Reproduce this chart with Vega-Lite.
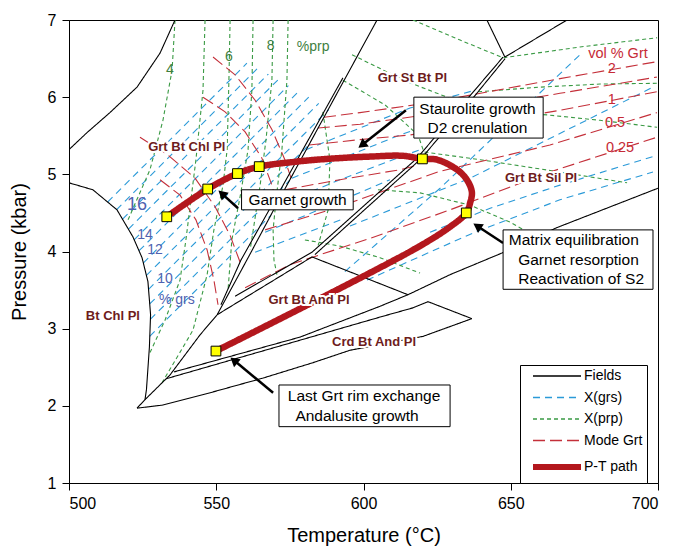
{
"$schema":"https://vega.github.io/schema/vega-lite/v6.json",
"width":589,"height":463,
"autosize":{"type":"none"},
"padding":{"left":69,"top":20,"right":17,"bottom":71},
"background":"white",
"datasets":{
"iso":[
{"g":"b1","k":"X(grs)","T":513.1,"P":4.64},{"g":"b1","k":"X(grs)","T":560.4,"P":6.44},
{"g":"b2","k":"X(grs)","T":516.1,"P":4.54},{"g":"b2","k":"X(grs)","T":564.2,"P":6.38},
{"g":"b3","k":"X(grs)","T":518.2,"P":4.42},{"g":"b3","k":"X(grs)","T":567.7,"P":6.30},
{"g":"b4","k":"X(grs)","T":520.2,"P":4.29},{"g":"b4","k":"X(grs)","T":571.1,"P":6.23},
{"g":"b5","k":"X(grs)","T":522.1,"P":4.15},{"g":"b5","k":"X(grs)","T":574.5,"P":6.15},
{"g":"b6","k":"X(grs)","T":523.8,"P":4.01},{"g":"b6","k":"X(grs)","T":577.9,"P":6.07},
{"g":"b7","k":"X(grs)","T":525.2,"P":3.85},{"g":"b7","k":"X(grs)","T":581.4,"P":6.00},
{"g":"b8","k":"X(grs)","T":526.3,"P":3.69},{"g":"b8","k":"X(grs)","T":584.8,"P":5.92},
{"g":"b9","k":"X(grs)","T":527.0,"P":3.51},{"g":"b9","k":"X(grs)","T":588.2,"P":5.84},
{"g":"b10","k":"X(grs)","T":527.4,"P":3.32},{"g":"b10","k":"X(grs)","T":581.4,"P":5.38},
{"g":"b11","k":"X(grs)","T":527.6,"P":3.12},{"g":"b11","k":"X(grs)","T":574.9,"P":4.92},
{"g":"b12","k":"X(grs)","T":527.4,"P":2.90},{"g":"b12","k":"X(grs)","T":568.6,"P":4.47},
{"g":"bt1","k":"X(grs)","T":580.5,"P":5.32},{"g":"bt1","k":"X(grs)","T":598.8,"P":5.60},{"g":"bt1","k":"X(grs)","T":615.8,"P":5.86},{"g":"bt1","k":"X(grs)","T":637.9,"P":6.09},
{"g":"bt2","k":"X(grs)","T":575.7,"P":4.95},{"g":"bt2","k":"X(grs)","T":595.4,"P":5.25},{"g":"bt2","k":"X(grs)","T":612.4,"P":5.51},{"g":"bt2","k":"X(grs)","T":628.7,"P":5.73},
{"g":"bt3","k":"X(grs)","T":571.0,"P":4.60},{"g":"bt3","k":"X(grs)","T":592.0,"P":4.93},{"g":"bt3","k":"X(grs)","T":619.2,"P":5.32},
{"g":"bt4","k":"X(grs)","T":566.6,"P":4.25},{"g":"bt4","k":"X(grs)","T":588.6,"P":4.60},{"g":"bt4","k":"X(grs)","T":609.0,"P":4.93},
{"g":"bt5","k":"X(grs)","T":563.2,"P":3.99},{"g":"bt5","k":"X(grs)","T":578.4,"P":4.21},{"g":"bt5","k":"X(grs)","T":593.7,"P":4.43},
{"g":"bs1","k":"X(grs)","T":593.7,"P":3.74},{"g":"bs1","k":"X(grs)","T":626.0,"P":4.82},{"g":"bs1","k":"X(grs)","T":673.5,"P":6.55},
{"g":"bs2","k":"X(grs)","T":595.4,"P":4.33},{"g":"bs2","k":"X(grs)","T":636.2,"P":4.95},{"g":"bs2","k":"X(grs)","T":698.3,"P":6.13},
{"g":"bs3","k":"X(grs)","T":601.2,"P":3.63},{"g":"bs3","k":"X(grs)","T":637.2,"P":4.24},{"g":"bs3","k":"X(grs)","T":666.7,"P":4.67},{"g":"bs3","k":"X(grs)","T":698.3,"P":5.03},
{"g":"bs4","k":"X(grs)","T":622.6,"P":4.25},{"g":"bs4","k":"X(grs)","T":643.0,"P":4.56},{"g":"bs4","k":"X(grs)","T":666.7,"P":4.86},{"g":"bs4","k":"X(grs)","T":698.3,"P":5.23},
{"g":"g1","k":"X(prp)","T":536.0,"P":7.0},{"g":"g1","k":"X(prp)","T":535.0,"P":6.35},{"g":"g1","k":"X(prp)","T":531.9,"P":5.70},{"g":"g1","k":"X(prp)","T":527.5,"P":5.06},{"g":"g1","k":"X(prp)","T":519.7,"P":4.38},
{"g":"g2","k":"X(prp)","T":546.2,"P":7.0},{"g":"g2","k":"X(prp)","T":545.5,"P":6.09},{"g":"g2","k":"X(prp)","T":543.1,"P":5.19},{"g":"g2","k":"X(prp)","T":539.7,"P":4.15},{"g":"g2","k":"X(prp)","T":537.7,"P":3.63},{"g":"g2","k":"X(prp)","T":532.6,"P":3.11},{"g":"g2","k":"X(prp)","T":527.5,"P":2.69},
{"g":"g3","k":"X(prp)","T":554.7,"P":7.0},{"g":"g3","k":"X(prp)","T":554.3,"P":6.22},{"g":"g3","k":"X(prp)","T":553.7,"P":5.32},{"g":"g3","k":"X(prp)","T":552.3,"P":4.86},{"g":"g3","k":"X(prp)","T":549.2,"P":4.28},{"g":"g3","k":"X(prp)","T":546.9,"P":3.70},{"g":"g3","k":"X(prp)","T":542.1,"P":2.98},{"g":"g3","k":"X(prp)","T":531.6,"P":2.30},
{"g":"g4","k":"X(prp)","T":562.5,"P":7.0},{"g":"g4","k":"X(prp)","T":562.1,"P":6.09},{"g":"g4","k":"X(prp)","T":560.8,"P":5.32},{"g":"g4","k":"X(prp)","T":558.1,"P":4.71},{"g":"g4","k":"X(prp)","T":555.3,"P":4.15},{"g":"g4","k":"X(prp)","T":554.0,"P":3.50},
{"g":"g5","k":"X(prp)","T":569.3,"P":7.0},{"g":"g5","k":"X(prp)","T":568.9,"P":6.22},{"g":"g5","k":"X(prp)","T":566.9,"P":5.45},{"g":"g5","k":"X(prp)","T":564.9,"P":4.86},{"g":"g5","k":"X(prp)","T":562.8,"P":4.34},{"g":"g5","k":"X(prp)","T":561.5,"P":4.02},
{"g":"g6","k":"X(prp)","T":574.4,"P":7.0},{"g":"g6","k":"X(prp)","T":574.0,"P":6.22},{"g":"g6","k":"X(prp)","T":572.3,"P":5.32},{"g":"g6","k":"X(prp)","T":570.3,"P":4.67},{"g":"g6","k":"X(prp)","T":569.3,"P":4.28},{"g":"g6","k":"X(prp)","T":569.6,"P":3.89},{"g":"g6","k":"X(prp)","T":570.6,"P":3.70},
{"g":"gr1","k":"X(prp)","T":616.8,"P":7.0},{"g":"gr1","k":"X(prp)","T":632.8,"P":6.74},{"g":"gr1","k":"X(prp)","T":647.4,"P":6.51},{"g":"gr1","k":"X(prp)","T":673.5,"P":6.65},{"g":"gr1","k":"X(prp)","T":699.7,"P":6.77},
{"g":"gr2","k":"X(prp)","T":638.9,"P":6.07},{"g":"gr2","k":"X(prp)","T":659.9,"P":6.13},{"g":"gr2","k":"X(prp)","T":680.3,"P":6.17},{"g":"gr2","k":"X(prp)","T":699.7,"P":6.18},
{"g":"gr3","k":"X(prp)","T":596.1,"P":6.55},{"g":"gr3","k":"X(prp)","T":614.8,"P":6.20},{"g":"gr3","k":"X(prp)","T":628.4,"P":6.00},{"g":"gr3","k":"X(prp)","T":639.6,"P":5.83},{"g":"gr3","k":"X(prp)","T":662.3,"P":5.77},{"g":"gr3","k":"X(prp)","T":680.3,"P":5.70},{"g":"gr3","k":"X(prp)","T":699.7,"P":5.61},
{"g":"gr4","k":"X(prp)","T":593.0,"P":6.22},{"g":"gr4","k":"X(prp)","T":607.3,"P":5.90},{"g":"gr4","k":"X(prp)","T":618.5,"P":5.51},{"g":"gr4","k":"X(prp)","T":620.5,"P":5.29},{"g":"gr4","k":"X(prp)","T":639.6,"P":5.19},{"g":"gr4","k":"X(prp)","T":666.7,"P":5.03},{"g":"gr4","k":"X(prp)","T":689.5,"P":4.89},
{"g":"gr5","k":"X(prp)","T":604.9,"P":4.80},{"g":"gr5","k":"X(prp)","T":619.2,"P":4.76},{"g":"gr5","k":"X(prp)","T":636.2,"P":4.60},{"g":"gr5","k":"X(prp)","T":649.8,"P":4.38},{"g":"gr5","k":"X(prp)","T":663.3,"P":4.09},
{"g":"gr6","k":"X(prp)","T":580.1,"P":4.15},{"g":"gr6","k":"X(prp)","T":592.0,"P":4.07},{"g":"gr6","k":"X(prp)","T":605.6,"P":3.92},{"g":"gr6","k":"X(prp)","T":619.2,"P":3.72},
{"g":"gr8","k":"X(prp)","T":586.2,"P":5.81},{"g":"gr8","k":"X(prp)","T":588.6,"P":5.19},{"g":"gr8","k":"X(prp)","T":588.0,"P":4.54},{"g":"gr8","k":"X(prp)","T":584.6,"P":4.08},
{"g":"ra","k":"Mode Grt","T":548.9,"P":6.52},{"g":"ra","k":"Mode Grt","T":556.4,"P":6.29},{"g":"ra","k":"Mode Grt","T":563.2,"P":5.96},{"g":"ra","k":"Mode Grt","T":568.9,"P":5.58},{"g":"ra","k":"Mode Grt","T":573.3,"P":5.19},{"g":"ra","k":"Mode Grt","T":575.4,"P":4.95},
{"g":"rb","k":"Mode Grt","T":545.5,"P":6.00},{"g":"rb","k":"Mode Grt","T":553.0,"P":5.81},{"g":"rb","k":"Mode Grt","T":559.8,"P":5.55},{"g":"rb","k":"Mode Grt","T":565.5,"P":5.21},{"g":"rb","k":"Mode Grt","T":568.9,"P":4.86},{"g":"rb","k":"Mode Grt","T":570.6,"P":4.60},
{"g":"rc","k":"Mode Grt","T":524.1,"P":5.48},{"g":"rc","k":"Mode Grt","T":533.6,"P":5.25},{"g":"rc","k":"Mode Grt","T":542.8,"P":4.95},{"g":"rc","k":"Mode Grt","T":549.6,"P":4.58},{"g":"rc","k":"Mode Grt","T":554.7,"P":4.21},{"g":"rc","k":"Mode Grt","T":558.1,"P":3.86},
{"g":"rd","k":"Mode Grt","T":530.9,"P":4.93},{"g":"rd","k":"Mode Grt","T":537.7,"P":4.73},{"g":"rd","k":"Mode Grt","T":543.1,"P":4.41},{"g":"rd","k":"Mode Grt","T":546.9,"P":4.02},{"g":"rd","k":"Mode Grt","T":549.2,"P":3.63},{"g":"rd","k":"Mode Grt","T":550.6,"P":3.31},
{"g":"rr1","k":"Mode Grt","T":586.6,"P":5.74},{"g":"rr1","k":"Mode Grt","T":598.8,"P":5.80},{"g":"rr1","k":"Mode Grt","T":619.2,"P":5.91},{"g":"rr1","k":"Mode Grt","T":636.8,"P":6.03},{"g":"rr1","k":"Mode Grt","T":666.7,"P":6.24},{"g":"rr1","k":"Mode Grt","T":699.6,"P":6.46},
{"g":"rr2","k":"Mode Grt","T":584.5,"P":5.60},{"g":"rr2","k":"Mode Grt","T":598.8,"P":5.65},{"g":"rr2","k":"Mode Grt","T":619.2,"P":5.76},{"g":"rr2","k":"Mode Grt","T":632.8,"P":5.83},{"g":"rr2","k":"Mode Grt","T":666.7,"P":6.05},{"g":"rr2","k":"Mode Grt","T":699.6,"P":6.26},
{"g":"rr3","k":"Mode Grt","T":581.5,"P":5.38},{"g":"rr3","k":"Mode Grt","T":598.8,"P":5.45},{"g":"rr3","k":"Mode Grt","T":615.8,"P":5.51},{"g":"rr3","k":"Mode Grt","T":627.7,"P":5.58},{"g":"rr3","k":"Mode Grt","T":666.7,"P":5.83},{"g":"rr3","k":"Mode Grt","T":699.6,"P":6.07},
{"g":"rr6","k":"Mode Grt","T":573.3,"P":4.80},{"g":"rr6","k":"Mode Grt","T":592.0,"P":4.93},{"g":"rr6","k":"Mode Grt","T":612.4,"P":5.06},{"g":"rr6","k":"Mode Grt","T":618.5,"P":5.12},
{"g":"rr4","k":"Mode Grt","T":566.6,"P":4.28},{"g":"rr4","k":"Mode Grt","T":588.6,"P":4.54},{"g":"rr4","k":"Mode Grt","T":608.0,"P":4.80},{"g":"rr4","k":"Mode Grt","T":626.0,"P":5.04},{"g":"rr4","k":"Mode Grt","T":663.3,"P":5.38},{"g":"rr4","k":"Mode Grt","T":699.6,"P":5.80},
{"g":"rr5","k":"Mode Grt","T":559.8,"P":3.53},{"g":"rr5","k":"Mode Grt","T":575.0,"P":3.83},{"g":"rr5","k":"Mode Grt","T":602.2,"P":4.17},{"g":"rr5","k":"Mode Grt","T":629.4,"P":4.54},{"g":"rr5","k":"Mode Grt","T":663.3,"P":5.03},{"g":"rr5","k":"Mode Grt","T":699.6,"P":5.48}
],
"fld":[
{"g":"f1","k":"Fields","T":536.0,"P":7.0},{"g":"f1","k":"Fields","T":530.9,"P":6.57},{"g":"f1","k":"Fields","T":523.1,"P":6.13},{"g":"f1","k":"Fields","T":513.9,"P":5.80},{"g":"f1","k":"Fields","T":506.1,"P":5.54},{"g":"f1","k":"Fields","T":500.0,"P":5.32},
{"g":"f2","k":"Fields","T":500.0,"P":4.89},{"g":"f2","k":"Fields","T":508.1,"P":4.80},{"g":"f2","k":"Fields","T":516.3,"P":4.54},{"g":"f2","k":"Fields","T":521.7,"P":4.19},{"g":"f2","k":"Fields","T":524.8,"P":3.92},{"g":"f2","k":"Fields","T":526.8,"P":3.61},{"g":"f2","k":"Fields","T":527.7,"P":3.18},{"g":"f2","k":"Fields","T":527.3,"P":2.76},{"g":"f2","k":"Fields","T":526.3,"P":2.21},{"g":"f2","k":"Fields","T":525.8,"P":2.08},{"g":"f2","k":"Fields","T":523.1,"P":1.97},
{"g":"f3","k":"Fields","T":523.1,"P":1.97},{"g":"f3","k":"Fields","T":531.9,"P":2.01},{"g":"f3","k":"Fields","T":548.9,"P":2.18},{"g":"f3","k":"Fields","T":565.9,"P":2.36},{"g":"f3","k":"Fields","T":582.9,"P":2.56},{"g":"f3","k":"Fields","T":595.4,"P":2.72},{"g":"f3","k":"Fields","T":620.2,"P":2.90},{"g":"f3","k":"Fields","T":636.8,"P":3.13},
{"g":"f4","k":"Fields","T":532.9,"P":2.35},{"g":"f4","k":"Fields","T":578.4,"P":2.85},{"g":"f4","k":"Fields","T":605.6,"P":3.15},{"g":"f4","k":"Fields","T":616.8,"P":3.27},{"g":"f4","k":"Fields","T":621.9,"P":3.35},{"g":"f4","k":"Fields","T":636.8,"P":3.13},
{"g":"f5","k":"Fields","T":535.7,"P":2.44},{"g":"f5","k":"Fields","T":578.4,"P":2.89},{"g":"f5","k":"Fields","T":605.6,"P":3.29},{"g":"f5","k":"Fields","T":615.1,"P":3.44},
{"g":"f6","k":"Fields","T":604.6,"P":7.0},{"g":"f6","k":"Fields","T":574.0,"P":4.86},{"g":"f6","k":"Fields","T":560.4,"P":3.89},{"g":"f6","k":"Fields","T":550.3,"P":3.18},{"g":"f6","k":"Fields","T":544.5,"P":2.92},{"g":"f6","k":"Fields","T":534.3,"P":2.40},{"g":"f6","k":"Fields","T":525.8,"P":2.08},
{"g":"f7","k":"Fields","T":593.0,"P":6.25},{"g":"f7","k":"Fields","T":572.7,"P":4.86},{"g":"f7","k":"Fields","T":558.4,"P":3.89},{"g":"f7","k":"Fields","T":551.6,"P":3.31},
{"g":"f8","k":"Fields","T":556.4,"P":3.42},{"g":"f8","k":"Fields","T":582.5,"P":3.99},
{"g":"f9","k":"Fields","T":550.3,"P":3.18},{"g":"f9","k":"Fields","T":582.5,"P":3.93},{"g":"f9","k":"Fields","T":615.1,"P":3.44},
{"g":"f10","k":"Fields","T":582.5,"P":3.99},{"g":"f10","k":"Fields","T":618.2,"P":5.21},{"g":"f10","k":"Fields","T":636.2,"P":6.02},{"g":"f10","k":"Fields","T":647.4,"P":6.52},
{"g":"f11","k":"Fields","T":583.5,"P":3.96},{"g":"f11","k":"Fields","T":619.2,"P":5.19},{"g":"f11","k":"Fields","T":637.2,"P":5.99},{"g":"f11","k":"Fields","T":648.1,"P":6.50},
{"g":"f12","k":"Fields","T":648.0,"P":6.52},{"g":"f12","k":"Fields","T":641.9,"P":7.0},
{"g":"f13","k":"Fields","T":648.0,"P":6.52},{"g":"f13","k":"Fields","T":669.1,"P":7.0},
{"g":"f14","k":"Fields","T":615.1,"P":3.44},{"g":"f14","k":"Fields","T":629.4,"P":3.70},{"g":"f14","k":"Fields","T":647.0,"P":3.98},{"g":"f14","k":"Fields","T":665.7,"P":4.31},{"g":"f14","k":"Fields","T":700.0,"P":4.82}
],
"path":[
{"g":"p","k":"P-T path","T":533.2,"P":4.45},{"g":"p","k":"P-T path","T":547.1,"P":4.81},{"g":"p","k":"P-T path","T":557.2,"P":5.01},{"g":"p","k":"P-T path","T":564.6,"P":5.10},{"g":"p","k":"P-T path","T":576.1,"P":5.16},{"g":"p","k":"P-T path","T":587.6,"P":5.20},{"g":"p","k":"P-T path","T":602.2,"P":5.23},{"g":"p","k":"P-T path","T":613.4,"P":5.24},{"g":"p","k":"P-T path","T":620.0,"P":5.20},{"g":"p","k":"P-T path","T":625.0,"P":5.19},{"g":"p","k":"P-T path","T":631.8,"P":5.06},{"g":"p","k":"P-T path","T":635.1,"P":4.93},{"g":"p","k":"P-T path","T":636.8,"P":4.77},{"g":"p","k":"P-T path","T":636.2,"P":4.63},{"g":"p","k":"P-T path","T":634.9,"P":4.50},{"g":"p","k":"P-T path","T":629.4,"P":4.32},{"g":"p","k":"P-T path","T":616.8,"P":4.02},{"g":"p","k":"P-T path","T":549.9,"P":2.71}
],
"mk":[
{"T":533.2,"P":4.45},{"T":547.1,"P":4.81},{"T":557.2,"P":5.01},{"T":564.6,"P":5.10},{"T":620.0,"P":5.20},{"T":634.9,"P":4.50},{"T":549.9,"P":2.71}
],
"arr":[
{"g":"a1","T":614.4,"P":5.83},{"g":"a1","T":599.5,"P":5.38},
{"g":"a2","T":557.4,"P":4.56},{"g":"a2","T":551.9,"P":4.75},
{"g":"a3","T":647.4,"P":4.11},{"g":"a3","T":638.6,"P":4.33},
{"g":"a4","T":569.3,"P":2.17},{"g":"a4","T":556.0,"P":2.59}
],
"heads":[
{"T":599.5,"P":5.38,"a":232.6},{"T":551.9,"P":4.75,"a":312},{"T":638.6,"P":4.33,"a":303.7},{"T":556.0,"P":2.59,"a":309.9}
],
"box":[
{"T":617.1,"T2":661.0,"P":6.00,"P2":5.47},
{"T":558.6,"T2":596.5,"P":4.80,"P2":4.54},
{"T":647.4,"T2":698.3,"P":4.28,"P2":3.51},
{"T":571.3,"T2":629.4,"P":2.27,"P2":1.73}
],
"btxt":[
{"T":638.7,"P":5.85,"t":"Staurolite growth"},{"T":638.7,"P":5.60,"t":"D2 crenulation"},
{"T":577.6,"P":4.67,"t":"Garnet growth"},
{"T":671.4,"P":4.15,"t":"Matrix equilibration"},{"T":673.0,"P":3.89,"t":"Garnet resorption"},{"T":673.9,"P":3.64,"t":"Reactivation of S2"},
{"T":600.2,"P":2.13,"t":"Last Grt rim exchange"},{"T":597.8,"P":1.87,"t":"Andalusite growth"}
],
"flab":[
{"T":540.0,"P":5.36,"t":"Grt Bt Chl Pl"},{"T":616.6,"P":6.25,"t":"Grt St Bt Pl"},{"T":660.3,"P":4.95,"t":"Grt Bt Sil Pl"},{"T":581.5,"P":3.37,"t":"Grt Bt And Pl"},{"T":603.6,"P":2.83,"t":"Crd Bt And Pl"},{"T":514.9,"P":3.16,"t":"Bt Chl Pl"}
],
"ilab":[
{"c":"prp","T":534.3,"P":6.35,"t":"4"},{"c":"prp","T":554.3,"P":6.52,"t":"6"},{"c":"prp","T":568.5,"P":6.66,"t":"8"},{"c":"prp","T":582.9,"P":6.65,"t":"%prp"},
{"c":"grs","T":525.8,"P":4.21,"t":"14"},{"c":"grs","T":529.2,"P":4.02,"t":"12"},{"c":"grs","T":532.6,"P":3.65,"t":"10"},{"c":"grs","T":536.6,"P":3.37,"t":"% grs"},
{"c":"grsbig","T":523.1,"P":4.60,"t":"16"},
{"c":"mode","T":686.4,"P":6.56,"t":"vol % Grt"},{"c":"mode","T":684.3,"P":6.37,"t":"2"},{"c":"mode","T":684.3,"P":5.96,"t":"1"},{"c":"mode","T":685.4,"P":5.66,"t":"0.5"},{"c":"mode","T":687.1,"P":5.34,"t":"0.25"}
]
},
"encoding":{
"x":{"field":"T","type":"quantitative","scale":{"domain":[500,700],"nice":false,"zero":false},"axis":{"values":[500,550,600,650,700],"title":"Temperature (°C)","labelPadding":5,"titlePadding":14}},
"y":{"field":"P","type":"quantitative","scale":{"domain":[1,7],"nice":false,"zero":false},"axis":{"values":[1,2,3,4,5,6,7],"title":"Pressure (kbar)","labelPadding":6,"titlePadding":18}}
},
"layer":[
{"data":{"name":"iso"},"mark":{"type":"line","clip":true,"strokeWidth":1.1},
 "encoding":{
  "color":{"field":"k","type":"nominal","scale":{"domain":["Fields","X(grs)","X(prp)","Mode Grt","P-T path"],"range":["#000000","#2b9ad8","#3a9a44","#c4303a","#b3171d"]},"legend":{"title":null,"encode":{"symbols":{"update":{"strokeWidth":{"signal":"datum.value === 'P-T path' ? 6 : 1.3"}}}}}},
  "strokeDash":{"field":"k","type":"nominal","scale":{"domain":["Fields","X(grs)","X(prp)","Mode Grt","P-T path"],"range":[[1,0],[7,5],[4,3],[12,5],[1,0]]},"legend":{"title":null}},
  "detail":{"field":"g","type":"nominal"},
  "order":{"value":null}}},
{"data":{"name":"fld"},"mark":{"type":"line","clip":true,"strokeWidth":1.1},
 "encoding":{
  "color":{"field":"k","type":"nominal","scale":{"domain":["Fields","X(grs)","X(prp)","Mode Grt","P-T path"],"range":["#000000","#2b9ad8","#3a9a44","#c4303a","#b3171d"]},"legend":{"title":null,"encode":{"symbols":{"update":{"strokeWidth":{"signal":"datum.value === 'P-T path' ? 6 : 1.3"}}}}}},
  "strokeDash":{"field":"k","type":"nominal","scale":{"domain":["Fields","X(grs)","X(prp)","Mode Grt","P-T path"],"range":[[1,0],[7,5],[4,3],[12,5],[1,0]]},"legend":{"title":null}},
  "detail":{"field":"g","type":"nominal"},
  "order":{"value":null}}},
{"data":{"name":"path"},"mark":{"type":"line","interpolate":"catmull-rom","strokeWidth":6.5},
 "encoding":{
  "color":{"field":"k","type":"nominal","scale":{"domain":["Fields","X(grs)","X(prp)","Mode Grt","P-T path"],"range":["#000000","#2b9ad8","#3a9a44","#c4303a","#b3171d"]},"legend":{"title":null,"encode":{"symbols":{"update":{"strokeWidth":{"signal":"datum.value === 'P-T path' ? 6 : 1.3"}}}}}},
  "strokeDash":{"field":"k","type":"nominal","scale":{"domain":["Fields","X(grs)","X(prp)","Mode Grt","P-T path"],"range":[[1,0],[7,5],[4,3],[12,5],[1,0]]},"legend":{"title":null}},
  "detail":{"field":"g","type":"nominal"},
  "order":{"value":null}}},
{"data":{"name":"arr"},"mark":{"type":"line","color":"black","strokeWidth":2.5},
 "encoding":{"detail":{"field":"g","type":"nominal"},"order":{"value":null}}},
{"data":{"name":"heads"},"mark":{"type":"point","shape":"triangle-up","filled":true,"color":"black","size":110,"opacity":1},
 "encoding":{"angle":{"field":"a","type":"quantitative","scale":null}}},
{"data":{"name":"mk"},"mark":{"type":"point","shape":"square","filled":true,"fill":"#ffff00","stroke":"black","strokeWidth":1,"size":95,"opacity":1}},
{"data":{"name":"box"},"mark":{"type":"rect","fill":"white","stroke":"black","strokeWidth":1},
 "encoding":{"x2":{"field":"T2"},"y2":{"field":"P2"}}},
{"data":{"name":"btxt"},"mark":{"type":"text","font":"Liberation Sans","fontSize":15.5,"color":"black","align":"center","baseline":"middle"},
 "encoding":{"text":{"field":"t"}}},
{"data":{"name":"flab"},"mark":{"type":"text","font":"Liberation Sans","fontSize":13,"fontWeight":"bold","stroke":"white","strokeWidth":4,"fill":"white","align":"center","baseline":"middle"},
 "encoding":{"text":{"field":"t"}}},
{"data":{"name":"flab"},"mark":{"type":"text","font":"Liberation Sans","fontSize":13,"fontWeight":"bold","color":"#6e1c1c","align":"center","baseline":"middle"},
 "encoding":{"text":{"field":"t"}}},
{"data":{"name":"ilab"},"transform":[{"filter":"datum.c=='prp'"}],"mark":{"type":"text","font":"Liberation Sans","fontSize":14,"color":"#3f7f3f","align":"center","baseline":"middle"},
 "encoding":{"text":{"field":"t"}}},
{"data":{"name":"ilab"},"transform":[{"filter":"datum.c=='grs'"}],"mark":{"type":"text","font":"Liberation Sans","fontSize":14,"color":"#4f62b0","align":"center","baseline":"middle"},
 "encoding":{"text":{"field":"t"}}},
{"data":{"name":"ilab"},"transform":[{"filter":"datum.c=='grsbig'"}],"mark":{"type":"text","font":"Liberation Sans","fontSize":18,"color":"#4f62b0","align":"center","baseline":"middle"},
 "encoding":{"text":{"field":"t"}}},
{"data":{"name":"ilab"},"transform":[{"filter":"datum.c=='mode'"}],"mark":{"type":"text","font":"Liberation Sans","fontSize":14.5,"color":"#c62a36","align":"center","baseline":"middle"},
 "encoding":{"text":{"field":"t"}}}
],
"config":{
"view":{"stroke":"black","strokeWidth":1},
"font":"Liberation Sans",
"axis":{"domainColor":"black","tickColor":"black","labelColor":"black","titleColor":"black","labelFont":"Liberation Sans","titleFont":"Liberation Sans","labelFontSize":16,"titleFontSize":20,"titleFontWeight":"normal","tickSize":7,"grid":false},
"legend":{"orient":"none","legendX":451,"legendY":345,"strokeColor":"black","fillColor":"white","padding":4,"labelFont":"Liberation Sans","labelFontSize":14,"labelColor":"black","symbolType":"M-3,0L3,0","symbolSize":256,"symbolOffset":26,"labelOffset":20,"rowPadding":7.5,"cornerRadius":0}
}
}
